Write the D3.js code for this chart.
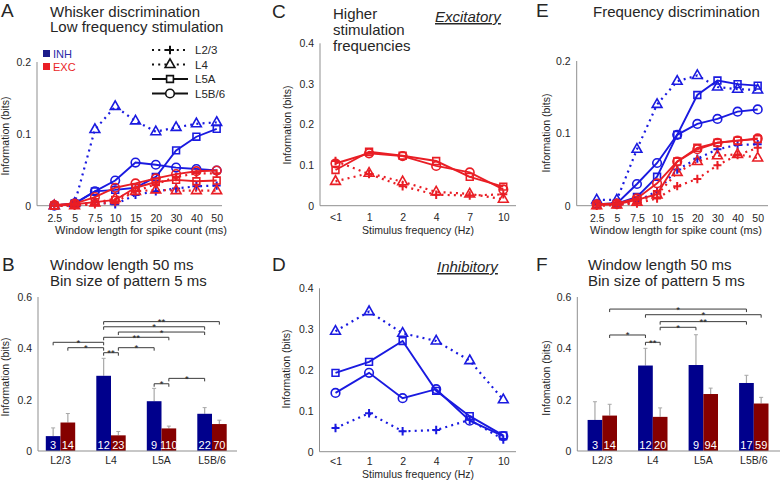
<!DOCTYPE html>
<html><head><meta charset="utf-8">
<script src="https://cdn.jsdelivr.net/npm/d3@7"></script>
<style>body{margin:0;background:#fff}svg{display:block;font-family:Arial,"Liberation Sans",sans-serif}</style>
</head><body><svg id="c" width="780" height="482"></svg>
<script>
// ---------- data ----------
const windowLabels = ["2.5","5","7.5","10","15","20","30","40","50"];
const freqLabels = ["<1","1","2","4","7","10"];
const layers = ["L2/3","L4","L5A","L5B/6"];
const cellTypes = ["INH","EXC"];

// Panel A: whisker discrimination, low frequency stimulation
const A_INH_L23  = [0,0.001,0.005,0.002,0.015,0.02,0.024,0.027,0.028];
const A_INH_L4   = [0,0.003,0.106,0.138,0.118,0.103,0.109,0.114,0.116];
const A_INH_L5A  = [0,0.003,0.02,0.022,0.025,0.04,0.077,0.096,0.107];
const A_INH_L5B6 = [0,0.003,0.02,0.035,0.06,0.057,0.053,0.051,0.049];
const A_EXC_L23  = [0,0,0.002,0.005,0.02,0.03,0.04,0.045,0.045];
const A_EXC_L4   = [0,0,0.004,0.01,0.02,0.022,0.021,0.021,0.021];
const A_EXC_L5A  = [0,0.002,0.005,0.008,0.025,0.033,0.036,0.034,0.035];
const A_EXC_L5B6 = [0.001,0.003,0.012,0.025,0.031,0.038,0.044,0.048,0.049];

// Panel C: excitatory, higher stimulation frequencies
const C_EXC_L23  = [0.11,0.078,0.048,0.027,0.025,0.028];
const C_EXC_L4   = [0.06,0.08,0.059,0.034,0.029,0.016];
const C_EXC_L5A  = [0.088,0.133,0.123,0.11,0.071,0.047];
const C_EXC_L5B6 = [0.104,0.129,0.122,0.098,0.082,0.04];

// Panel D: inhibitory
const D_INH_L23  = [0.058,0.094,0.05,0.053,0.078,0.03];
const D_INH_L4   = [0.295,0.343,0.29,0.271,0.223,0.127];
const D_INH_L5A  = [0.193,0.22,0.271,0.149,0.087,0.04];
const D_INH_L5B6 = [0.144,0.193,0.131,0.153,0.076,0.038];

// Panel E: frequency discrimination
const E_INH_L23  = [0.002,0.002,0.006,0.02,0.05,0.065,0.078,0.084,0.085];
const E_INH_L4   = [0.008,0.008,0.078,0.14,0.172,0.18,0.164,0.161,0.16];
const E_INH_L5A  = [0.002,0.003,0.012,0.04,0.098,0.153,0.173,0.168,0.166];
const E_INH_L5B6 = [0.002,0.003,0.03,0.059,0.098,0.113,0.12,0.13,0.133];
const E_EXC_L23  = [0,0.001,0.003,0.01,0.027,0.037,0.056,0.07,0.08];
const E_EXC_L4   = [0,0.001,0.005,0.015,0.046,0.061,0.069,0.071,0.066];
const E_EXC_L5A  = [0.001,0.002,0.008,0.016,0.061,0.08,0.087,0.09,0.092];
const E_EXC_L5B6 = [0.002,0.003,0.01,0.031,0.061,0.078,0.087,0.09,0.093];

// Panel B bars
const B_INH = [0.058,0.293,0.194,0.145];
const B_INH_ERR = [0.032,0.068,0.05,0.024];
const B_EXC = [0.111,0.061,0.088,0.105];
const B_EXC_ERR = [0.035,0.015,0.009,0.015];
const B_N_INH = [3,12,9,22];
const B_N_EXC = [14,23,110,70];
const B_SIG = [
  ["L2/3","INH","L4","INH",0.4235,"*"],
  ["L2/3","EXC","L4","INH",0.4025,"*"],
  ["L4","INH","L4","EXC",0.383,"**"],
  ["L4","EXC","L5A","INH",0.4025,"*"],
  ["L4","INH","L5B/6","EXC",0.504,"**"],
  ["L4","INH","L5B/6","INH",0.484,"*"],
  ["L4","EXC","L5B/6","INH",0.4635,"*"],
  ["L4","INH","L5A","EXC",0.443,"**"],
  ["L5A","INH","L5A","EXC",0.262,"*"],
  ["L5A","EXC","L5B/6","INH",0.283,"*"]
];

// Panel F bars
const F_INH = [0.121,0.333,0.335,0.265];
const F_INH_ERR = [0.071,0.067,0.118,0.03];
const F_EXC = [0.138,0.133,0.222,0.185];
const F_EXC_ERR = [0.044,0.035,0.023,0.024];
const F_N_INH = [3,12,9,17];
const F_N_EXC = [14,20,94,59];
const F_SIG = [
  ["L2/3","EXC","L5B/6","INH",0.553,"*"],
  ["L4","INH","L5B/6","EXC",0.531,"*"],
  ["L4","EXC","L5B/6","INH",0.504,"**"],
  ["L4","EXC","L5A","INH",0.482,"*"],
  ["L2/3","EXC","L4","INH",0.452,"*"],
  ["L4","INH","L4","EXC",0.4235,"**"]
];

// ---------- style ----------
const BLUE="#1a1ae0", RED="#e91e25", INHBAR="#00008c", EXCBAR="#850000";
const AX="#8f8f8f", TXT="#262626";
const layerStyle = {
  "L2/3":{m:"plus",dash:true},
  "L4":{m:"tri",dash:true},
  "L5A":{m:"sq",dash:false},
  "L5B/6":{m:"circ",dash:false}
};
function markerPath(k){
  if(k==="plus") return "M-4,0H4M0,-4.2V4.2";
  if(k==="tri") return "M0,-5.6L4.9,3L-4.9,3Z";
  if(k==="sq") return "M-3.4,-3.4H3.4V3.4H-3.4Z";
  return "M4.3,0A4.3,4.3 0 1,1 -4.3,0A4.3,4.3 0 1,1 4.3,0Z";
}
const svg = d3.select("#c");

function txt(x,y,s,opt={}){
  const t = svg.append("text").attr("x",x).attr("y",y).text(s)
    .attr("font-size",opt.size||11).attr("fill",opt.fill||TXT)
    .attr("text-anchor",opt.anchor||"start");
  if(opt.italic) t.attr("font-style","italic");
  if(opt.underline) t.attr("text-decoration","underline");
  return t;
}
function yLabel(x,cy,s,size){
  svg.append("text").attr("transform",`translate(${x},${cy}) rotate(-90)`)
    .attr("text-anchor","middle").attr("font-size",size||10.5).attr("fill",TXT).text(s);
}

function axes(g, x, y, axX, axEnd, yTicks, xPad, fmt){
  g.append("line").attr("x1",axX).attr("x2",axEnd).attr("y1",y(0)).attr("y2",y(0)).attr("stroke",AX).attr("stroke-width",1);
  g.append("line").attr("x1",axX).attr("x2",axX).attr("y1",y(0)).attr("y2",y(y.domain()[1])).attr("stroke",AX).attr("stroke-width",1);
  const ya = g.append("g").attr("transform",`translate(${axX},0)`)
    .call(d3.axisLeft(y).tickValues(yTicks).tickSize(0).tickPadding(6).tickFormat(d=>d===0?"0":fmt(d)));
  ya.select(".domain").remove();
  ya.selectAll("text").attr("font-size",10.5).attr("fill",TXT).attr("font-family",null);
  const xa = g.append("g").attr("transform",`translate(0,${y(0)})`)
    .call(d3.axisBottom(x).tickSize(0).tickPadding(xPad));
  xa.select(".domain").remove();
  xa.selectAll("text").attr("font-size",10.5).attr("fill",TXT).attr("font-family",null);
}

function linePanel(cfg){
  const g = svg.append("g");
  const x = d3.scalePoint().domain(cfg.xLabels).range(cfg.xr);
  const y = d3.scaleLinear().domain(cfg.yDomain).range(cfg.yr);
  axes(g,x,y,cfg.axX,cfg.axEnd,cfg.yTicks,cfg.xPad,d3.format(".1f"));
  const line = d3.line().x((d,i)=>x(cfg.xLabels[i])).y(d=>y(d));
  cfg.series.forEach(s=>{
    const st = layerStyle[s.layer];
    g.append("path").attr("d",line(s.vals)).attr("fill","none").attr("stroke",s.color)
      .attr("stroke-width",st.dash?2.2:1.9).attr("stroke-dasharray",st.dash?"2,4.2":null);
    g.selectAll(null).data(s.vals).enter().append("path")
      .attr("transform",(d,i)=>`translate(${x(cfg.xLabels[i])},${y(d)})`)
      .attr("d",markerPath(st.m)).attr("fill","none").attr("stroke",s.color)
      .attr("stroke-width",st.m==="plus"?2:1.6);
  });
  return {x,y};
}

function barPanel(cfg){
  const g = svg.append("g");
  const xg = d3.scaleBand().domain(layers).range(cfg.xr).paddingInner(0).paddingOuter(0);
  const sub = d3.scaleBand().domain(cellTypes).range([-cfg.bw, cfg.bw]);
  const y = d3.scaleLinear().domain([0,0.6]).range(cfg.yr);
  const cx = (l,t)=> xg(l)+xg.bandwidth()/2+sub(t)+sub.bandwidth()/2;
  const sets = [
    {t:"INH",v:cfg.inh,e:cfg.inhErr,n:cfg.nInh,c:INHBAR},
    {t:"EXC",v:cfg.exc,e:cfg.excErr,n:cfg.nExc,c:EXCBAR}
  ];
  sets.forEach(s=>{
    layers.forEach((l,i)=>{
      const xc = cx(l,s.t);
      g.append("line").attr("x1",xc).attr("x2",xc).attr("y1",y(s.v[i])).attr("y2",y(s.v[i]+s.e[i]))
        .attr("stroke","#a8a8a8").attr("stroke-width",1.2);
      g.append("line").attr("x1",xc-2).attr("x2",xc+2).attr("y1",y(s.v[i]+s.e[i])).attr("y2",y(s.v[i]+s.e[i]))
        .attr("stroke","#a8a8a8").attr("stroke-width",1);
    });
  });
  sets.forEach(s=>{
    g.selectAll(null).data(layers).enter().append("rect")
      .attr("x",l=>xg(l)+xg.bandwidth()/2+sub(s.t)).attr("width",sub.bandwidth())
      .attr("y",(l,i)=>y(s.v[i])).attr("height",(l,i)=>y(0)-y(s.v[i])).attr("fill",s.c);
    g.selectAll(null).data(layers).enter().append("text")
      .attr("x",l=>cx(l,s.t)).attr("y",y(0)-2.5).attr("text-anchor","middle")
      .attr("font-size",11).attr("fill","#fff").text((l,i)=>s.n[i]);
  });
  g.append("line").attr("x1",cfg.axX).attr("x2",cfg.axEnd).attr("y1",y(0)).attr("y2",y(0)).attr("stroke",AX);
  g.append("line").attr("x1",cfg.axX).attr("x2",cfg.axX).attr("y1",y(0)).attr("y2",y(0.6)).attr("stroke",AX);
  const ya = g.append("g").attr("transform",`translate(${cfg.axX},0)`)
    .call(d3.axisLeft(y).tickValues([0,0.2,0.4,0.6]).tickSize(0).tickPadding(6).tickFormat(d=>d===0?"0":d3.format(".1f")(d)));
  ya.select(".domain").remove();
  ya.selectAll("text").attr("font-size",10.5).attr("fill",TXT).attr("font-family",null);
  const xa = g.append("g").attr("transform",`translate(0,${y(0)})`)
    .call(d3.axisBottom(xg).tickSize(0).tickPadding(6));
  xa.select(".domain").remove();
  xa.selectAll("text").attr("font-size",10.5).attr("fill",TXT).attr("font-family",null);
  cfg.sig.forEach(s=>{
    const x1 = cx(s[0],s[1]), x2 = cx(s[2],s[3]), yy = y(s[4]);
    g.append("path").attr("d",`M${x1},${yy+3}V${yy}H${x2}V${yy+3}`).attr("fill","none")
      .attr("stroke","#3a3a3a").attr("stroke-width",1);
    g.append("text").attr("x",(x1+x2)/2).attr("y",yy+3.5).attr("text-anchor","middle")
      .attr("font-size",9.5).attr("fill","#222").text(s[5]);
  });
}

// ---------- Panel A ----------
linePanel({
  xLabels:windowLabels, xr:[54.3,216.7], yDomain:[0,0.2], yr:[205.7,62], axX:37, axEnd:222,
  yTicks:[0,0.1,0.2], xPad:9,
  series:[
    {vals:A_INH_L23,layer:"L2/3",color:BLUE},{vals:A_INH_L4,layer:"L4",color:BLUE},
    {vals:A_INH_L5A,layer:"L5A",color:BLUE},{vals:A_INH_L5B6,layer:"L5B/6",color:BLUE},
    {vals:A_EXC_L23,layer:"L2/3",color:RED},{vals:A_EXC_L4,layer:"L4",color:RED},
    {vals:A_EXC_L5A,layer:"L5A",color:RED},{vals:A_EXC_L5B6,layer:"L5B/6",color:RED}
  ]
});
txt(1,17,"A",{size:19});
txt(50,16.5,"Whisker discrimination",{size:15});
txt(50,32,"Low frequency stimulation",{size:15});
yLabel(9,136,"Information (bits)");
txt(141,234,"Window length for spike count (ms)",{anchor:"middle",size:11});
svg.append("rect").attr("x",43).attr("y",50).attr("width",7).attr("height",7).attr("fill","#1c1c8a");
txt(53,57.5,"INH",{fill:"#2b2ba8",size:11});
svg.append("rect").attr("x",43).attr("y",63).attr("width",7).attr("height",7).attr("fill",RED);
txt(53,70.5,"EXC",{fill:RED,size:11});
layers.forEach((l,i)=>{
  const st = layerStyle[l], yy = 50 + i*14.5;
  svg.append("line").attr("x1",152).attr("x2",188).attr("y1",yy).attr("y2",yy).attr("stroke","#111")
    .attr("stroke-width",st.dash?2.2:1.9).attr("stroke-dasharray",st.dash?"2,4.2":null);
  svg.append("path").attr("transform",`translate(170,${yy})`).attr("d",markerPath(st.m))
    .attr("fill","#fff").attr("stroke","#111").attr("stroke-width",st.m==="plus"?2:1.6);
  txt(195,yy+4,l,{size:11.5});
});

// ---------- Panel C ----------
linePanel({
  xLabels:freqLabels, xr:[335.5,503.3], yDomain:[0,0.4], yr:[205.7,43.3], axX:320, axEnd:516,
  yTicks:[0,0.1,0.2,0.3,0.4], xPad:8,
  series:[
    {vals:C_EXC_L23,layer:"L2/3",color:RED},{vals:C_EXC_L4,layer:"L4",color:RED},
    {vals:C_EXC_L5A,layer:"L5A",color:RED},{vals:C_EXC_L5B6,layer:"L5B/6",color:RED}
  ]
});
txt(272,18,"C",{size:19});
txt(333,18.5,"Higher",{size:15});
txt(333,34.5,"stimulation",{size:15});
txt(333,50.5,"frequencies",{size:15});
txt(435,22,"Excitatory",{size:15,italic:true,underline:true});
yLabel(291,125,"Information (bits)");
txt(418,234,"Stimulus frequency (Hz)",{anchor:"middle",size:10.5});

// ---------- Panel D ----------
linePanel({
  xLabels:freqLabels, xr:[335.5,503.3], yDomain:[0,0.4], yr:[451.7,288.3], axX:319.5, axEnd:516,
  yTicks:[0,0.1,0.2,0.3,0.4], xPad:6,
  series:[
    {vals:D_INH_L23,layer:"L2/3",color:BLUE},{vals:D_INH_L4,layer:"L4",color:BLUE},
    {vals:D_INH_L5A,layer:"L5A",color:BLUE},{vals:D_INH_L5B6,layer:"L5B/6",color:BLUE}
  ]
});
txt(272,271,"D",{size:19});
txt(437,272,"Inhibitory",{size:15,italic:true,underline:true});
yLabel(290,369,"Information (bits)");
txt(418,478,"Stimulus frequency (Hz)",{anchor:"middle",size:10.5});

// ---------- Panel E ----------
linePanel({
  xLabels:windowLabels, xr:[596.7,757.7], yDomain:[0,0.2], yr:[205.7,61], axX:576.7, axEnd:768,
  yTicks:[0,0.1,0.2], xPad:9,
  series:[
    {vals:E_INH_L23,layer:"L2/3",color:BLUE},{vals:E_INH_L4,layer:"L4",color:BLUE},
    {vals:E_INH_L5A,layer:"L5A",color:BLUE},{vals:E_INH_L5B6,layer:"L5B/6",color:BLUE},
    {vals:E_EXC_L23,layer:"L2/3",color:RED},{vals:E_EXC_L4,layer:"L4",color:RED},
    {vals:E_EXC_L5A,layer:"L5A",color:RED},{vals:E_EXC_L5B6,layer:"L5B/6",color:RED}
  ]
});
txt(536,17,"E",{size:19});
txt(593,17,"Frequency discrimination",{size:15});
yLabel(550,133,"Information (bits)");
txt(676,234,"Window length for spike count (ms)",{anchor:"middle",size:11});

// ---------- Panel B ----------
barPanel({xr:[35.25,237.25], bw:14.7, yr:[451,297], axX:38, axEnd:237,
  inh:B_INH, inhErr:B_INH_ERR, exc:B_EXC, excErr:B_EXC_ERR, nInh:B_N_INH, nExc:B_N_EXC, sig:B_SIG});
txt(2,271,"B",{size:19});
txt(50,269.5,"Window length 50 ms",{size:15});
txt(50,286,"Bin size of pattern 5 ms",{size:15});
yLabel(9,377,"Information (bits)");

// ---------- Panel F ----------
barPanel({xr:[577.05,779.05], bw:14.7, yr:[451,297], axX:577.3, axEnd:780,
  inh:F_INH, inhErr:F_INH_ERR, exc:F_EXC, excErr:F_EXC_ERR, nInh:F_N_INH, nExc:F_N_EXC, sig:F_SIG});
txt(536,271,"F",{size:19});
txt(588,269.5,"Window length 50 ms",{size:15});
txt(588,286,"Bin size of pattern 5 ms",{size:15});
yLabel(550,378,"Infomation (bits)");
</script></body></html>
